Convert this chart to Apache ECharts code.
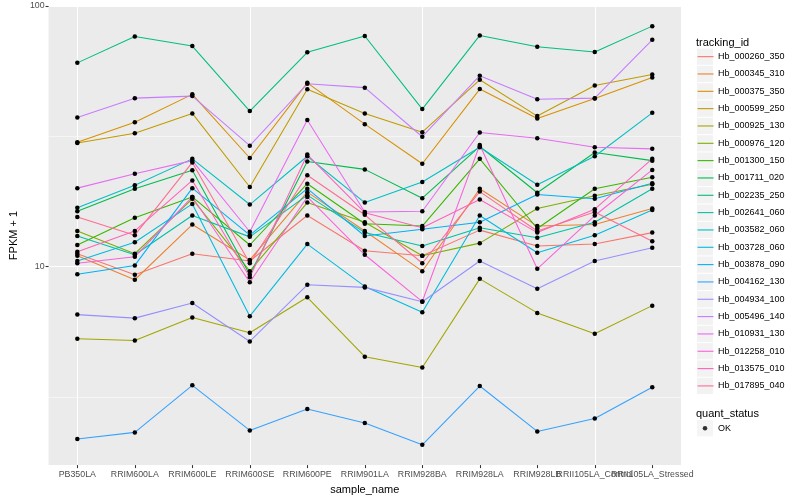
<!DOCTYPE html>
<html>
<head>
<meta charset="utf-8">
<script src="https://cdn.jsdelivr.net/npm/echarts@6/dist/echarts.min.js"></script>
<style>html,body{margin:0;padding:0;background:#fff}#c{width:800px;height:500px}</style>
</head>
<body>
<div id="c"></div>
<script>
const categories = ['PB350LA','RRIM600LA','RRIM600LE','RRIM600SE','RRIM600PE','RRIM901LA','RRIM928BA','RRIM928LA','RRIM928LB','RRII105LA_Control','RRII105LA_Stressed'];
const yTickValues = [10, 100];

const hb_000260_350 = [11.2, 9.3, 11.2, 10.5, 15.7, 11.5, 11.0, 13.8, 12.0, 12.2, 13.5];
const hb_000345_310 = [11.0, 8.9, 14.5, 10.6, 19.3, 13.7, 9.6, 19.9, 14.3, 14.5, 16.7];
const hb_000375_350 = [30.0, 35.8, 45.8, 26.1, 50.7, 35.2, 24.8, 48.0, 37.0, 44.2, 53.2];
const hb_000599_250 = [29.8, 32.5, 38.7, 20.2, 47.9, 38.7, 32.8, 52.1, 37.8, 49.5, 54.6];
const hb_000925_130 = [5.28, 5.20, 6.37, 5.57, 7.62, 4.51, 4.10, 8.97, 6.64, 5.52, 7.08];
const hb_000976_120 = [13.7, 11.2, 18.2, 9.6, 17.6, 14.8, 11.0, 12.3, 16.7, 18.7, 20.7];
const hb_001300_150 = [12.1, 15.4, 18.5, 12.1, 20.8, 14.6, 14.3, 25.9, 14.0, 19.9, 22.0];
const hb_001711_020 = [16.3, 19.9, 23.4, 9.3, 25.3, 23.6, 18.3, 28.9, 19.2, 27.4, 25.5];
const hb_002235_250 = [60.5, 76.4, 70.2, 39.5, 66.4, 76.7, 40.2, 77.1, 69.8, 66.6, 83.7];
const hb_002641_060 = [13.1, 11.1, 15.7, 13.0, 18.8, 13.5, 12.0, 14.1, 12.9, 14.8, 19.9];
const hb_003582_060 = [16.8, 20.5, 25.9, 17.3, 26.5, 17.6, 21.1, 28.7, 20.6, 26.5, 38.9];
const hb_003728_060 = [10.5, 12.4, 17.4, 6.45, 12.2, 8.39, 6.68, 15.7, 11.3, 13.2, 16.5];
const hb_003878_090 = [9.35, 10.1, 20.0, 13.2, 19.9, 13.1, 13.9, 14.8, 18.9, 18.2, 20.9];
const hb_004162_130 = [2.18, 2.31, 3.50, 2.35, 2.84, 2.51, 2.07, 3.48, 2.33, 2.61, 3.44];
const hb_004934_100 = [6.54, 6.34, 7.25, 5.16, 8.51, 8.32, 7.33, 10.5, 8.22, 10.5, 11.8];
const hb_005496_140 = [37.3, 44.3, 45.1, 29.1, 50.3, 48.6, 31.5, 54.0, 43.9, 44.3, 74.2];
const hb_010931_130 = [20.0, 22.7, 25.5, 13.6, 36.5, 16.2, 16.3, 32.7, 31.1, 28.7, 28.3];
const hb_012258_010 = [10.3, 10.9, 18.5, 8.7, 18.5, 11.1, 7.34, 29.3, 9.8, 15.7, 23.5];
const hb_013575_010 = [11.4, 13.7, 21.4, 9.1, 26.9, 16.1, 14.1, 18.1, 13.5, 16.6, 25.9];
const hb_017895_040 = [15.5, 13.2, 25.1, 10.3, 22.4, 15.8, 10.3, 19.4, 13.7, 16.2, 12.5];

const trackingIds = ['Hb_000260_350','Hb_000345_310','Hb_000375_350','Hb_000599_250','Hb_000925_130','Hb_000976_120','Hb_001300_150','Hb_001711_020','Hb_002235_250','Hb_002641_060','Hb_003582_060','Hb_003728_060','Hb_003878_090','Hb_004162_130','Hb_004934_100','Hb_005496_140','Hb_010931_130','Hb_012258_010','Hb_013575_010','Hb_017895_040'];
const seriesValues = [hb_000260_350, hb_000345_310, hb_000375_350, hb_000599_250, hb_000925_130, hb_000976_120, hb_001300_150, hb_001711_020, hb_002235_250, hb_002641_060, hb_003582_060, hb_003728_060, hb_003878_090, hb_004162_130, hb_004934_100, hb_005496_140, hb_010931_130, hb_012258_010, hb_013575_010, hb_017895_040];
const quantStatus = ['OK'];

const palette = ['#F8766D','#EA8331','#D89000','#C09B00','#A3A500','#7CAE00','#39B600','#00BB4E','#00BF7D','#00C1A3','#00BFC4','#00BAE0','#00B0F6','#35A2FF','#9590FF','#C77CFF','#E76BF3','#FA62DB','#FF62BC','#FF6C91'];

const FONT = '"Liberation Sans", Arial, Helvetica, sans-serif';
const chart = echarts.init(document.getElementById('c'), null, {renderer: 'canvas'});

const lineSeries = trackingIds.map((name, i) => ({
  name: name,
  type: 'line',
  xAxisIndex: 0,
  yAxisIndex: 0,
  data: seriesValues[i],
  symbol: 'circle',
  symbolSize: 4.5,
  showSymbol: true,
  itemStyle: {color: '#000000'},
  lineStyle: {color: palette[i], width: 1.07},
  emphasis: {disabled: true},
  silent: true,
  z: 2
}));

const okSeries = {
  name: quantStatus[0],
  type: 'scatter',
  xAxisIndex: 0,
  yAxisIndex: 0,
  data: [],
  symbol: 'circle',
  symbolSize: 4.5,
  itemStyle: {color: '#000000'},
  silent: true
};

const isPow10 = v => { const l = Math.log10(v); return Math.abs(l - Math.round(l)) < 1e-6; };

const legendCommon = {
  orient: 'vertical',
  left: 697,
  padding: 0,
  itemWidth: 16,
  itemHeight: 16.3,
  itemGap: 1.03,
  selectedMode: false
};

const option = {
  animation: false,
  textStyle: {fontFamily: FONT},
  title: [
    {text: 'tracking_id', left: 696, top: 37, padding: 0, textStyle: {fontSize: 11, fontWeight: 'normal', color: '#000', fontFamily: FONT}},
    {text: 'quant_status', left: 696, top: 408, padding: 0, textStyle: {fontSize: 11, fontWeight: 'normal', color: '#000', fontFamily: FONT}}
  ],
  grid: {left: 42.5, top: 6, width: 638.5, height: 462, show: true, backgroundColor: '#EBEBEB', borderWidth: 0, containLabel: false},
  legend: [
    Object.assign({}, legendCommon, {
      top: 48.5, data: trackingIds, icon: 'rect',
      itemStyle: {color: '#F2F2F2', borderWidth: 0},
      textStyle: {fontSize: 9, color: '#000', lineHeight: 16.3, fontFamily: FONT}
    }),
    Object.assign({}, legendCommon, {
      top: 48.5, data: trackingIds,
      itemStyle: {opacity: 0},
      lineStyle: {width: 1.1},
      textStyle: {fontSize: 9, color: 'rgba(0,0,0,0)', lineHeight: 16.3, fontFamily: FONT}
    }),
    Object.assign({}, legendCommon, {
      top: 420, data: quantStatus, icon: 'rect',
      itemStyle: {color: '#F2F2F2', borderWidth: 0},
      textStyle: {fontSize: 9, color: '#000', lineHeight: 16.3, fontFamily: FONT}
    }),
    Object.assign({}, legendCommon, {
      top: 420, left: 702.75, data: quantStatus,
      itemWidth: 4.5, itemHeight: 4.5,
      textStyle: {fontSize: 9, color: 'rgba(0,0,0,0)', lineHeight: 16.3, fontFamily: FONT}
    })
  ],
  xAxis: [
    {
      type: 'category', data: categories, boundaryGap: true, position: 'bottom',
      axisLine: {show: false},
      axisLabel: {show: false},
      axisTick: {show: true, alignWithLabel: true, inside: true, length: 462, lineStyle: {color: '#FFFFFF', width: 1.07}},
      splitLine: {show: false}
    },
    {
      type: 'category', data: categories, boundaryGap: true, position: 'bottom',
      axisLine: {show: false},
      axisTick: {show: true, alignWithLabel: true, length: 3, lineStyle: {color: '#333333', width: 1.07}},
      axisLabel: {show: true, interval: 0, fontSize: 8.8, color: '#4D4D4D', margin: 5, fontFamily: FONT},
      splitLine: {show: false},
      name: 'sample_name', nameLocation: 'middle', nameGap: 16.5,
      nameTextStyle: {fontSize: 11, color: '#000', fontFamily: FONT}
    }
  ],
  yAxis: [
    {
      type: 'log', logBase: 10, min: 1.73, max: 100,
      axisLine: {show: false},
      axisTick: {show: true, length: 3, customValues: yTickValues, lineStyle: {color: '#333333', width: 1.07}},
      axisLabel: {fontSize: 8.8, color: '#4D4D4D', margin: 4, fontFamily: FONT, customValues: yTickValues,
        formatter: v => isPow10(v) ? String(Math.round(v)) : ''},
      splitLine: {show: true, lineStyle: {color: '#FFFFFF', width: 1.07}},
      name: 'FPKM + 1', nameLocation: 'middle', nameGap: 27,
      nameTextStyle: {fontSize: 11, color: '#000', fontFamily: FONT}
    },
    {
      type: 'log', logBase: Math.sqrt(10), min: 1.73, max: 100, position: 'left',
      axisLine: {show: false}, axisTick: {show: false}, axisLabel: {show: false},
      splitLine: {show: true, lineStyle: {color: '#FFFFFF', width: 0.53}}
    }
  ],
  series: lineSeries.concat([okSeries])
};
chart.setOption(option);
</script>
</body>
</html>
